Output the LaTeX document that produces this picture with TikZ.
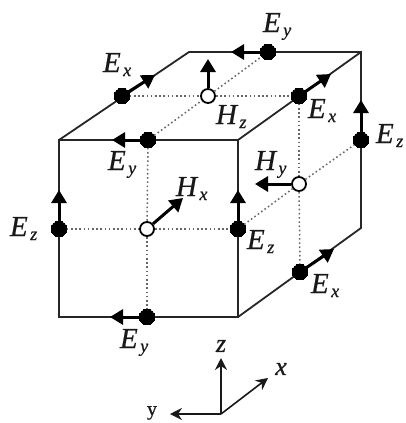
\documentclass[tikz,border=0pt]{standalone}
\usepackage{fontspec}
\setmainfont{Liberation Serif}
\newfontfamily\labfont{Liberation Serif}[ItalicFeatures={FakeBold=0.6},UprightFeatures={FakeBold=0.6}]
\usetikzlibrary{arrows.meta}
\tikzset{
  frameline/.style={line width=1.8pt,black!85},
  gridline/.style={line width=1.5pt,black!60,dash pattern=on 1.6pt off 2.6pt},
  field/.style={line width=3pt,black,-{Triangle[length=13pt,width=15pt]},shorten >=0pt},
  axis/.style={line width=1.6pt,black!90,-{Stealth[length=12pt,width=12pt,inset=4pt]}},
  efield/.style={circle,fill=black,draw=black,line width=0pt,minimum size=15.5pt,inner sep=0pt},
  hfield/.style={circle,fill=white,draw=black,line width=1.8pt,minimum size=14pt,inner sep=0pt},
  lab/.style={anchor=base west,inner sep=0pt,outer sep=0pt,text=black!90},
  axlab/.style={inner sep=0pt,font=\labfont\fontsize{26}{26}\selectfont\itshape,text=black!90}
}
\newcommand{\fieldlab}[2]{{\labfont\fontsize{29}{29}\selectfont\itshape #1}\kern2.5pt\raisebox{-4pt}{\labfont\fontsize{18}{18}\selectfont\itshape #2}}
\begin{document}
\begin{tikzpicture}[x=1pt,y=-1pt]
\useasboundingbox (0,0) rectangle (406,423);
% frame corners
\coordinate (A) at (59,140);
\coordinate (B) at (238,140);
\coordinate (C) at (238,317);
\coordinate (D) at (59,317);
\coordinate (E) at (189,52);
\coordinate (F) at (361,52);
\coordinate (G) at (361,228);
% field points
\node[efield] (ezl) at (59,229) {};
\node[efield] (eyb) at (147,317) {};
\node[efield] (eyf) at (148,140) {};
\node[efield] (ezr) at (238,229) {};
\node[efield] (extl) at (122,96) {};
\node[efield] (extr) at (299,96) {};
\node[efield] (eyk) at (268,52) {};
\node[efield] (ezk) at (361,140) {};
\node[efield] (exlr) at (300,272) {};
\node[hfield] (hx) at (147,229) {};
\node[hfield] (hz) at (208,96) {};
\node[hfield] (hy) at (299,184) {};
% arrow ends
\coordinate (aezl) at (59,190);
\coordinate (aeyb) at (110,317);
\coordinate (aeyf) at (112,140);
\coordinate (aezr) at (238,190);
\coordinate (aextl) at (155,75);
\coordinate (aextr) at (331,74);
\coordinate (aeyk) at (231,52);
\coordinate (aezk) at (361,100);
\coordinate (aexlr) at (334,249);
\coordinate (ahx) at (183,198);
\coordinate (ahz) at (208,59);
\coordinate (ahy) at (255,184);
% frame
\draw[frameline,line join=miter] (D) -- (A) -- (B) -- (C) -- cycle;
\draw[frameline] (A) -- (E) -- (F) -- (G) -- (C);
\draw[frameline] (B) -- (F);
% dotted grid
\draw[gridline] (eyf) -- (hx);
\draw[gridline] (hx) -- (eyb);
\draw[gridline] (ezl) -- (hx);
\draw[gridline] (hx) -- (ezr);
\draw[gridline] (extl) -- (hz);
\draw[gridline] (hz) -- (extr);
\draw[gridline] (eyf) -- (hz);
\draw[gridline] (hz) -- (eyk);
\draw[gridline] (extr) -- (hy);
\draw[gridline] (hy) -- (exlr);
\draw[gridline] (ezr) -- (hy);
\draw[gridline] (hy) -- (ezk);
% field arrows
\draw[field] (ezl.center) -- (aezl);
\draw[field] (eyb.center) -- (aeyb);
\draw[field] (eyf.center) -- (aeyf);
\draw[field] (ezr.center) -- (aezr);
\draw[field] (extl.center) -- (aextl);
\draw[field] (extr.center) -- (aextr);
\draw[field] (eyk.center) -- (aeyk);
\draw[field] (ezk.center) -- (aezk);
\draw[field] (exlr.center) -- (aexlr);
\draw[field] (hx) -- (ahx);
\draw[field] (hz) -- (ahz);
\draw[field] (hy) -- (ahy);
% redraw the points on top of the arrows
\node[efield] at (ezl) {};
\node[efield] at (eyb) {};
\node[efield] at (eyf) {};
\node[efield] at (ezr) {};
\node[efield] at (extl) {};
\node[efield] at (extr) {};
\node[efield] at (eyk) {};
\node[efield] at (ezk) {};
\node[efield] at (exlr) {};
% labels
\node[lab] (l1) at (103,72) {\fieldlab{E}{x}};
\node[lab] (l2) at (108,170) {\fieldlab{E}{y}};
\node[lab] (l3) at (176,196) {\fieldlab{H}{x}};
\node[lab] (l4) at (263,32) {\fieldlab{E}{y}};
\node[lab] (l5) at (308,118) {\fieldlab{E}{x}};
\node[lab] (l6) at (216,124) {\fieldlab{H}{z}};
\node[lab] (l7) at (376,143) {\fieldlab{E}{z}};
\node[lab] (l8) at (255,170) {\fieldlab{H}{y}};
\node[lab] (l9) at (10,236) {\fieldlab{E}{z}};
\node[lab] (l10) at (120,348) {\fieldlab{E}{y}};
\node[lab] (l11) at (247,249) {\fieldlab{E}{z}};
\node[lab] (l12) at (311,293) {\fieldlab{E}{x}};
% axes
\coordinate (O) at (221,414);
\coordinate (ax) at (268,378);
\coordinate (ay) at (170,414);
\coordinate (az) at (221,358);
\draw[axis] (O) -- (ax);
\draw[axis] (O) -- (ay);
\draw[axis] (O) -- (az);
\node[axlab] (lx) at (281,369) {x};
\node[axlab,font=\labfont\fontsize{20}{20}\selectfont] (ly) at (152,413) {y};
\node[axlab] (lz) at (221,346) {z};
\end{tikzpicture}
\end{document}
